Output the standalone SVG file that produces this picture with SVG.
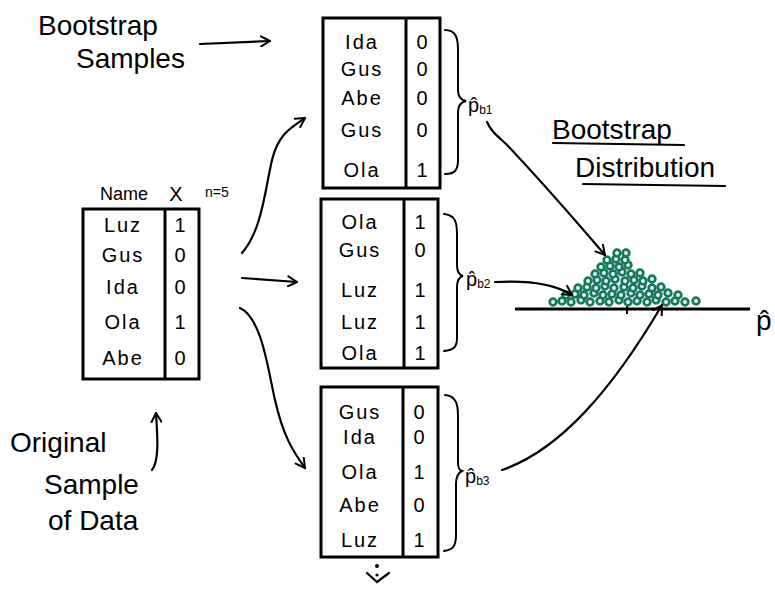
<svg xmlns="http://www.w3.org/2000/svg" width="775" height="589" viewBox="0 0 775 589">
<style>
text{font-family:"Liberation Sans","DejaVu Sans",sans-serif;fill:#000}
.t{fill:#fff;stroke:#000;stroke-width:3}
.cell{font-size:20px;letter-spacing:2px;text-anchor:middle}
.big{font-size:28px}
.ln{fill:none;stroke:#000;stroke-width:2.2;stroke-linecap:round}
.br{fill:none;stroke:#000;stroke-width:2;stroke-linecap:round}
.ph{font-size:20px}
.sub{font-size:12px}
.d{fill:#fff;stroke:#157a5c;stroke-width:2.8}
</style>
<defs>
<marker id="ah" viewBox="0 0 12 12" refX="10" refY="6" markerWidth="12" markerHeight="12" markerUnits="userSpaceOnUse" orient="auto">
<path d="M1,1 L10,6 L1,11" fill="none" stroke="#000" stroke-width="2" stroke-linecap="round" stroke-linejoin="round"/>
</marker>
</defs>
<rect width="775" height="589" fill="#fff"/>

<g id="label-bootstrap-samples">
<text x="38" y="35" class="big">Bootstrap</text>
<text x="76" y="68" class="big">Samples</text>
</g>

<g id="original">
<text x="100" y="200" font-size="18">Name</text>
<text x="176" y="201" font-size="20" text-anchor="middle">X</text>
<text x="205" y="197" font-size="14">n=5</text>
<rect class="t" x="83" y="209" width="116" height="170"/>
<line x1="165" y1="209" x2="165" y2="379" stroke="#000" stroke-width="3"/>
<text class="cell" x="123" y="232">Luz</text><text class="cell" x="181" y="232">1</text>
<text class="cell" x="123" y="262">Gus</text><text class="cell" x="181" y="262">0</text>
<text class="cell" x="123" y="294">Ida</text><text class="cell" x="181" y="294">0</text>
<text class="cell" x="123" y="329">Ola</text><text class="cell" x="181" y="329">1</text>
<text class="cell" x="123" y="365">Abe</text><text class="cell" x="181" y="365">0</text>
</g>

<g id="label-original">
<text x="10" y="452" class="big">Original</text>
<text x="44" y="494" class="big">Sample</text>
<text x="48" y="530" class="big">of Data</text>
</g>

<g id="sample1">
<rect class="t" x="323" y="18" width="117" height="170"/>
<line x1="406" y1="18" x2="406" y2="188" stroke="#000" stroke-width="3"/>
<text class="cell" x="362" y="49">Ida</text><text class="cell" x="423" y="49">0</text>
<text class="cell" x="362" y="76">Gus</text><text class="cell" x="423" y="76">0</text>
<text class="cell" x="362" y="105">Abe</text><text class="cell" x="423" y="105">0</text>
<text class="cell" x="362" y="137">Gus</text><text class="cell" x="423" y="137">0</text>
<text class="cell" x="362" y="177">Ola</text><text class="cell" x="423" y="177">1</text>
<path class="br" d="M445,30 C456,30 458,38 458,50 L458,90 C458,97 461,100 466,101 C461,102 458,105 458,112 L458,160 C458,170 455,174 445,174"/>
<text x="468" y="112" class="ph">p̂<tspan class="sub" dy="2">b1</tspan></text>
</g>

<g id="sample2">
<rect class="t" x="321" y="199" width="117" height="169"/>
<line x1="404" y1="199" x2="404" y2="368" stroke="#000" stroke-width="3"/>
<text class="cell" x="360" y="229">Ola</text><text class="cell" x="421" y="229">1</text>
<text class="cell" x="360" y="257">Gus</text><text class="cell" x="421" y="257">0</text>
<text class="cell" x="360" y="297">Luz</text><text class="cell" x="421" y="297">1</text>
<text class="cell" x="360" y="329">Luz</text><text class="cell" x="421" y="329">1</text>
<text class="cell" x="360" y="360">Ola</text><text class="cell" x="421" y="360">1</text>
<path class="br" d="M444,214 C455,215 457,222 457,234 L457,265 C457,272 459,275 463,276 C459,277 457,280 457,287 L457,338 C457,347 454,350 444,351"/>
<text x="466" y="286" class="ph">p̂<tspan class="sub" dy="2">b2</tspan></text>
</g>

<g id="sample3">
<rect class="t" x="321" y="387" width="117" height="170"/>
<line x1="403" y1="387" x2="403" y2="557" stroke="#000" stroke-width="3"/>
<text class="cell" x="360" y="419">Gus</text><text class="cell" x="420" y="419">0</text>
<text class="cell" x="360" y="444">Ida</text><text class="cell" x="420" y="444">0</text>
<text class="cell" x="360" y="479">Ola</text><text class="cell" x="420" y="479">1</text>
<text class="cell" x="360" y="512">Abe</text><text class="cell" x="420" y="512">0</text>
<text class="cell" x="360" y="547">Luz</text><text class="cell" x="420" y="547">1</text>
<path class="br" d="M445,395 C456,396 458,404 458,416 L458,462 C458,468 459,470 462,471 C458,473 456,477 456,484 L456,535 C456,546 453,550 444,551"/>
<text x="465" y="483" class="ph">p̂<tspan class="sub" dy="2">b3</tspan></text>
<circle cx="377" cy="566" r="2" fill="#000"/>
<circle cx="377" cy="575" r="1.6" fill="#000"/>
<path class="ln" d="M367,573 L377,582 L389,573"/>
</g>

<g id="distribution">
<text x="552" y="139" class="big" font-size="26">Bootstrap</text>
<line class="ln" x1="553" y1="143" x2="684" y2="145"/>
<text x="575" y="177" class="big" font-size="26">Distribution</text>
<line class="ln" x1="583" y1="184" x2="725" y2="186"/>
<line x1="515" y1="309" x2="750" y2="309" stroke="#000" stroke-width="3"/>
<line x1="627" y1="303" x2="627" y2="314" stroke="#000" stroke-width="2"/>
<text x="756" y="330" font-size="28">p̂</text>
<g id="dots">
<circle class="d" cx="553" cy="302" r="3.3"/><circle class="d" cx="562" cy="301" r="3.3"/><circle class="d" cx="571" cy="302" r="3.3"/><circle class="d" cx="581" cy="300" r="3.3"/><circle class="d" cx="590" cy="302" r="3.3"/><circle class="d" cx="600" cy="301" r="3.3"/><circle class="d" cx="609" cy="302" r="3.3"/><circle class="d" cx="619" cy="300" r="3.3"/><circle class="d" cx="628" cy="302" r="3.3"/><circle class="d" cx="637" cy="301" r="3.3"/><circle class="d" cx="647" cy="302" r="3.3"/><circle class="d" cx="656" cy="300" r="3.3"/><circle class="d" cx="666" cy="302" r="3.3"/><circle class="d" cx="675" cy="301" r="3.3"/><circle class="d" cx="685" cy="302" r="3.3"/><circle class="d" cx="696" cy="301" r="3.3"/>
<circle class="d" cx="566" cy="295" r="3.3"/><circle class="d" cx="575" cy="294" r="3.3"/><circle class="d" cx="584" cy="295" r="3.3"/><circle class="d" cx="594" cy="293" r="3.3"/><circle class="d" cx="603" cy="295" r="3.3"/><circle class="d" cx="612" cy="294" r="3.3"/><circle class="d" cx="621" cy="295" r="3.3"/><circle class="d" cx="631" cy="293" r="3.3"/><circle class="d" cx="640" cy="295" r="3.3"/><circle class="d" cx="649" cy="294" r="3.3"/><circle class="d" cx="658" cy="295" r="3.3"/><circle class="d" cx="668" cy="293" r="3.3"/><circle class="d" cx="678" cy="295" r="3.3"/>
<circle class="d" cx="578" cy="288" r="3.3"/><circle class="d" cx="587" cy="287" r="3.3"/><circle class="d" cx="596" cy="288" r="3.3"/><circle class="d" cx="605" cy="286" r="3.3"/><circle class="d" cx="614" cy="288" r="3.3"/><circle class="d" cx="624" cy="287" r="3.3"/><circle class="d" cx="633" cy="288" r="3.3"/><circle class="d" cx="642" cy="286" r="3.3"/><circle class="d" cx="652" cy="288" r="3.3"/><circle class="d" cx="661" cy="287" r="3.3"/>
<circle class="d" cx="588" cy="281" r="3.3"/><circle class="d" cx="597" cy="280" r="3.3"/><circle class="d" cx="606" cy="281" r="3.3"/><circle class="d" cx="615" cy="279" r="3.3"/><circle class="d" cx="625" cy="281" r="3.3"/><circle class="d" cx="634" cy="280" r="3.3"/><circle class="d" cx="643" cy="281" r="3.3"/><circle class="d" cx="652" cy="279" r="3.3"/>
<circle class="d" cx="595" cy="274" r="3.3"/><circle class="d" cx="604" cy="273" r="3.3"/><circle class="d" cx="613" cy="274" r="3.3"/><circle class="d" cx="622" cy="272" r="3.3"/><circle class="d" cx="631" cy="274" r="3.3"/><circle class="d" cx="640" cy="273" r="3.3"/>
<circle class="d" cx="601" cy="267" r="3.3"/><circle class="d" cx="610" cy="266" r="3.3"/><circle class="d" cx="619" cy="267" r="3.3"/><circle class="d" cx="628" cy="265" r="3.3"/>
<circle class="d" cx="607" cy="260" r="3.3"/><circle class="d" cx="616" cy="259" r="3.3"/><circle class="d" cx="625" cy="260" r="3.3"/>
<circle class="d" cx="617" cy="253" r="3.3"/><circle class="d" cx="626" cy="253" r="3.3"/>
</g>
</g>

<g id="connectors">
<path class="ln" d="M200,44 L270,41" marker-end="url(#ah)"/>
<path class="ln" d="M152,470 C160,460 157,432 156,413" marker-end="url(#ah)"/>
<path class="ln" d="M242,253 C262,230 265,190 272,160 C278,135 290,128 305,118" marker-end="url(#ah)"/>
<path class="ln" d="M242,278 L297,282" marker-end="url(#ah)"/>
<path class="ln" d="M240,308 C262,318 268,370 275,400 C283,435 292,450 305,468" marker-end="url(#ah)"/>
<path class="ln" d="M487,122 C492,133 498,136 508,146 C540,180 575,220 605,255" marker-end="url(#ah)"/>
<path class="ln" d="M495,282 C530,280 555,284 572,295" marker-end="url(#ah)"/>
<path class="ln" d="M502,470 C560,450 612,390 662,305" marker-end="url(#ah)"/>
</g>
</svg>
